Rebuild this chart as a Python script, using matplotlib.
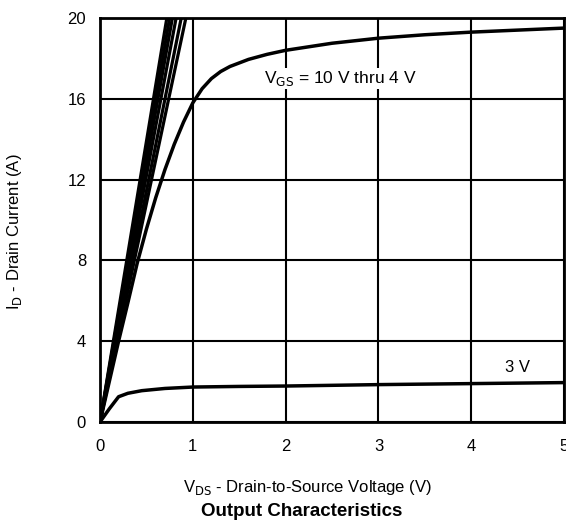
import numpy as np
import matplotlib
matplotlib.use('Agg')
from matplotlib import pyplot as plt

plt.rcParams['font.family'] = ['Liberation Sans', 'DejaVu Sans']

# steep linear region curves, VGS = 10 V ... 5 V
steep_x = [
    [0, 0.72],
    [0, 0.75],
    [0, 0.78],
    [0, 0.82],
    [0, 0.875],
    [0, 0.925],
]
steep_y = [
    [0, 20],
    [0, 20],
    [0, 20],
    [0, 20],
    [0, 20],
    [0, 20],
]

# VGS = 4 V
v4_x = [0, 0.1, 0.2, 0.3, 0.4, 0.5, 0.6, 0.7, 0.8, 0.9, 1.0, 1.1, 1.2, 1.3, 1.4,
        1.6, 1.8, 2.0, 2.5, 3.0, 3.5, 4.0, 4.5, 5.0]
v4_y = [0, 2.0, 4.0, 5.9, 7.85, 9.55, 11.1, 12.5, 13.75, 14.85, 15.8, 16.5, 17.0, 17.35, 17.6,
        17.95, 18.2, 18.4, 18.75, 19.0, 19.17, 19.3, 19.4, 19.5]

# VGS = 3 V
v3_x = [0, 0.1, 0.2, 0.3, 0.45, 0.7, 1.0, 1.5, 2.0, 3.0, 4.0, 5.0]
v3_y = [0, 0.65, 1.25, 1.42, 1.55, 1.66, 1.73, 1.76, 1.78, 1.85, 1.9, 1.95]

fig = plt.figure(figsize=(5.66, 5.29), dpi=100)
ax = fig.add_axes([0.1767, 0.2023, 0.82, 0.7637])

for xs, ys in zip(steep_x, steep_y):
    ax.plot(xs, ys, color='black', lw=2.3, solid_capstyle='butt')
ax.plot(v4_x, v4_y, color='black', lw=2.5)
ax.plot(v3_x, v3_y, color='black', lw=2.5)

ax.set_xlim(0, 5)
ax.set_ylim(0, 20)
ax.set_xticks([0, 1, 2, 3, 4, 5])
ax.set_yticks([0, 4, 8, 12, 16, 20])
ax.grid(True, color='black', lw=1.5)
ax.set_axisbelow(True)
for s in ax.spines.values():
    s.set_linewidth(2)
ax.tick_params(length=0, labelsize=12, pad=12)
ax.tick_params(axis='y', pad=10)

ax.text(2.59, 17.0, r'V$_{\rm GS}$ = 10 V thru 4 V', ha='center', va='center',
        fontsize=12.5, zorder=5,
        bbox=dict(facecolor='white', edgecolor='none', pad=1))
ax.text(4.5, 2.7, '3 V', ha='center', va='center', fontsize=12,
        bbox=dict(facecolor='white', edgecolor='none', pad=1), zorder=5)

ax.set_xlabel(r'V$_{\rm DS}$ - Drain-to-Source Voltage (V)', fontsize=12)
ax.xaxis.set_label_coords(0.446, -0.139)
ax.set_ylabel(r'I$_{\rm D}$ - Drain Current (A)', fontsize=12)
ax.yaxis.set_label_coords(-0.164, 0.47)
fig.text(302 / 566, 1 - 511 / 529, 'Output Characteristics', ha='center', va='center',
         fontsize=13.5, fontweight='bold')

fig.savefig('out.png', dpi=100)
